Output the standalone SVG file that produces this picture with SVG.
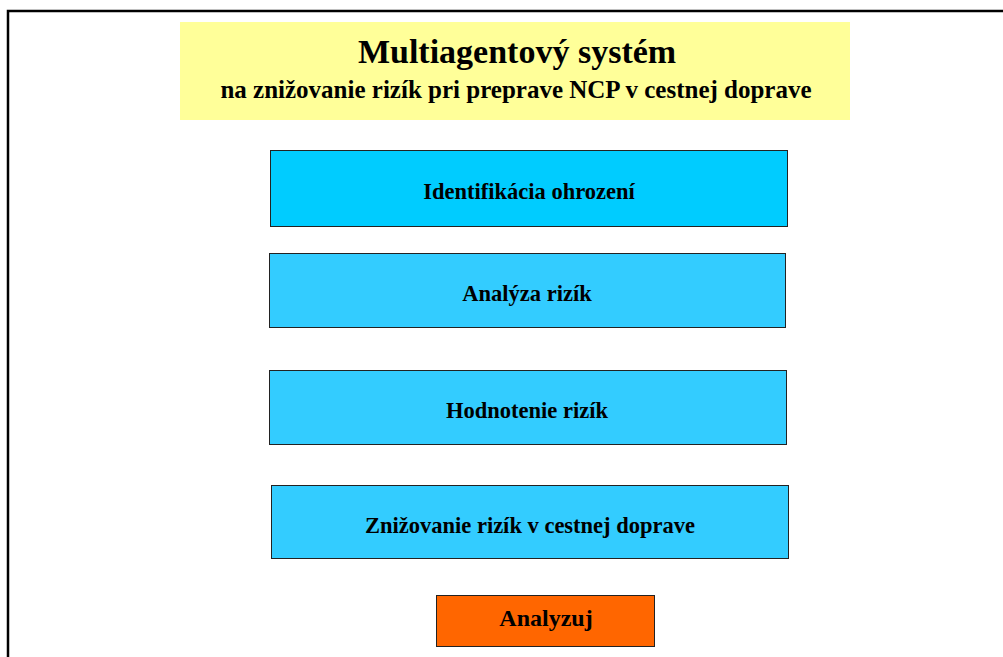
<svg xmlns="http://www.w3.org/2000/svg" width="1003" height="657" viewBox="0 0 1003 657">
<style>
.t{font-family:"Liberation Serif","Times New Roman",serif;font-weight:bold;fill:#000;text-anchor:middle}
.box{stroke:#222;stroke-width:1}
.b1{fill:#00CCFF}
.b2{fill:#33CCFF}
.lbl{font-size:22.5px}
</style>
<rect width="1003" height="657" fill="#fff"/>
<path d="M8 657 V11 H1003" fill="none" stroke="#000" stroke-width="2.5"/>
<g id="title">
<rect x="180" y="22" width="670" height="98" fill="#FFFF99"/>
<text class="t" x="517" y="63" font-size="34">Multiagentový systém</text>
<text class="t" x="516" y="98" font-size="25">na znižovanie rizík pri preprave NCP v cestnej doprave</text>
</g>
<g id="identifikacia">
<rect class="box b1" x="270.5" y="150.5" width="517" height="76"/>
<text class="t lbl" x="529" y="199">Identifikácia ohrození</text>
</g>
<g id="analyza">
<rect class="box b2" x="269.5" y="253.5" width="516" height="74"/>
<text class="t lbl" x="527" y="301">Analýza rizík</text>
</g>
<g id="hodnotenie">
<rect class="box b2" x="269.5" y="370.5" width="517" height="74"/>
<text class="t lbl" x="527" y="418">Hodnotenie rizík</text>
</g>
<g id="znizovanie">
<rect class="box b2" x="271.5" y="485.5" width="517" height="73"/>
<text class="t lbl" x="530" y="533">Znižovanie rizík v cestnej doprave</text>
</g>
<g id="analyzuj">
<rect class="box" x="436.5" y="595.5" width="218" height="51" fill="#FF6600"/>
<text class="t" x="546" y="626" font-size="24">Analyzuj</text>
</g>
<g id="connectors"></g>
</svg>
